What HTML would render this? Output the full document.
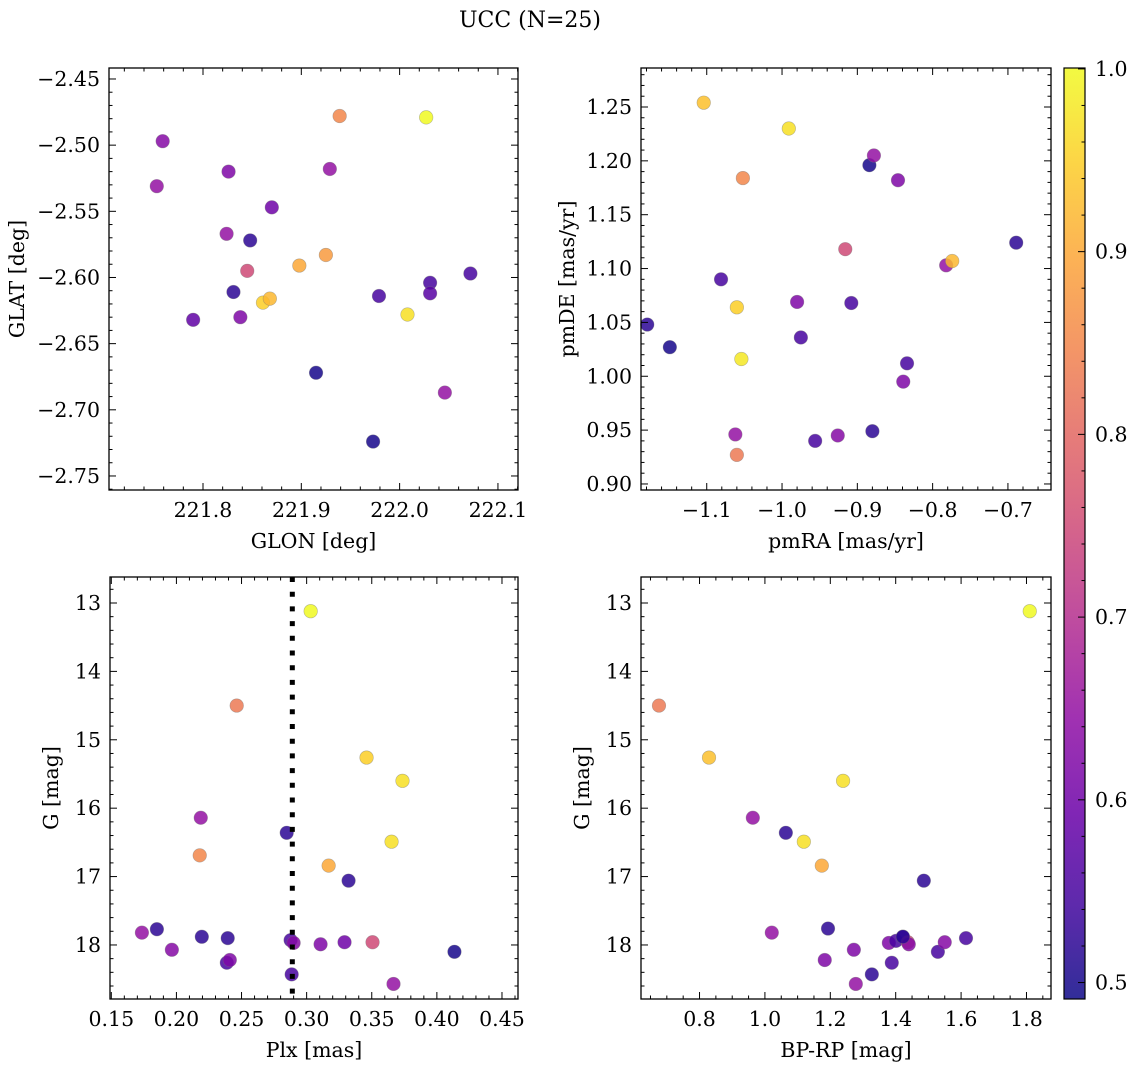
<!DOCTYPE html>
<html><head><meta charset="utf-8"><style>
html,body{margin:0;padding:0;background:#fff;}
svg text{font-family:"DejaVu Serif","Liberation Serif",serif;fill:#000;}
</style></head><body>
<svg id="fig" width="1136" height="1067" viewBox="0 0 1136 1067" xmlns="http://www.w3.org/2000/svg">
<text x="530" y="27" font-size="22" text-anchor="middle">UCC (N=25)</text>
</svg>
<script>
// ---- data ----
const glon = [221.753,221.759,221.790,221.826,221.824,221.831,221.838,221.845,221.848,221.861,221.868,221.870,221.898,221.925,221.929,221.915,221.939,221.979,221.973,222.008,222.027,222.031,222.031,222.046,222.072];
const glat = [-2.531,-2.497,-2.632,-2.520,-2.567,-2.611,-2.630,-2.595,-2.572,-2.619,-2.616,-2.547,-2.591,-2.583,-2.518,-2.672,-2.478,-2.614,-2.724,-2.628,-2.479,-2.604,-2.612,-2.687,-2.597];
const prob1 = [0.65,0.63,0.58,0.62,0.65,0.52,0.62,0.75,0.52,0.95,0.92,0.60,0.90,0.88,0.65,0.50,0.85,0.55,0.50,0.97,1.00,0.55,0.57,0.65,0.55];

const pmra = [-1.179,-1.149,-1.104,-1.081,-1.062,-1.060,-1.060,-1.054,-1.052,-0.991,-0.980,-0.975,-0.956,-0.926,-0.916,-0.908,-0.884,-0.880,-0.878,-0.846,-0.839,-0.834,-0.782,-0.774,-0.689];
const pmde = [1.048,1.027,1.254,1.090,0.946,1.064,0.927,1.016,1.184,1.230,1.069,1.036,0.940,0.945,1.118,1.068,1.196,0.949,1.205,1.182,0.995,1.012,1.103,1.107,1.124];
const prob2 = [0.52,0.50,0.93,0.55,0.65,0.95,0.83,0.98,0.85,0.97,0.62,0.55,0.55,0.63,0.75,0.55,0.50,0.52,0.65,0.62,0.62,0.55,0.65,0.92,0.52];

const plx = [0.1735,0.1850,0.1965,0.2195,0.2187,0.2179,0.2394,0.2387,0.2410,0.2463,0.2847,0.2877,0.2900,0.2885,0.3031,0.3107,0.3169,0.3291,0.3322,0.3460,0.3506,0.3652,0.3667,0.3736,0.4135];
const gmag3 = [17.82,17.77,18.07,17.88,16.14,16.69,17.90,18.26,18.22,14.50,16.36,17.93,17.97,18.43,13.12,17.99,16.84,17.96,17.06,15.26,17.96,16.49,18.57,15.60,18.10];
const prob3 = [0.65,0.52,0.63,0.52,0.65,0.85,0.52,0.55,0.62,0.83,0.52,0.55,0.63,0.55,1.00,0.62,0.90,0.60,0.52,0.95,0.75,0.97,0.65,0.97,0.50];
const plxMedian = [0.289];

const bprp = [0.676,0.829,0.963,1.021,1.064,1.119,1.174,1.183,1.193,1.239,1.272,1.278,1.327,1.379,1.388,1.401,1.422,1.437,1.440,1.486,1.529,1.550,1.615,1.810,1.422];
const gmag4 = [14.50,15.26,16.14,17.82,16.36,16.49,16.84,18.22,17.76,15.60,18.07,18.57,18.43,17.97,18.26,17.94,17.88,17.96,17.99,17.06,18.10,17.96,17.90,13.12,17.88];
const prob4 = [0.83,0.93,0.65,0.65,0.52,0.97,0.90,0.62,0.52,0.97,0.62,0.65,0.52,0.62,0.55,0.55,0.52,0.75,0.63,0.52,0.55,0.63,0.55,1.00,0.52];

const xt1 = ["221.8","221.9","222.0","222.1"], yt1 = ["−2.45","−2.50","−2.55","−2.60","−2.65","−2.70","−2.75"];
const xt2 = ["−1.1","−1.0","−0.9","−0.8","−0.7"], yt2 = ["0.90","0.95","1.00","1.05","1.10","1.15","1.20","1.25"];
const xt3 = ["0.15","0.20","0.25","0.30","0.35","0.40","0.45"], yt3 = ["13","14","15","16","17","18"];
const xt4 = ["0.8","1.0","1.2","1.4","1.6","1.8"], yt4 = ["13","14","15","16","17","18"];
const cbTicks = ["0.5","0.6","0.7","0.8","0.9","1.0"];

// ---- helpers ----
const NS = "http://www.w3.org/2000/svg";
const FS = 20.5;
const svg = document.getElementById('fig');
function mk(tag, attrs, parent){ const e=document.createElementNS(NS,tag); for(const k in attrs) e.setAttribute(k,attrs[k]); (parent||svg).appendChild(e); return e; }
const plasma = [[13,8,135],[65,4,157],[106,0,168],[143,13,164],[177,42,144],[204,71,120],[225,100,98],[242,132,75],[252,166,54],[252,206,37],[240,249,33]];
const CMIN=0.491, CMAX=1.0005;
function cmap(v){ let t=(v-CMIN)/(CMAX-CMIN); t=Math.max(0,Math.min(1,t)); const f=t*10, i=Math.min(9,Math.floor(f)), r=f-i; const a=plasma[i], b=plasma[i+1]; return 'rgb('+[0,1,2].map(k=>Math.round(a[k]+(b[k]-a[k])*r)).join(',')+')'; }

function panel(o){
  const g = mk('g',{});
  
  
  const sx = v => o.x0 + (v-o.xd[0])/(o.xd[1]-o.xd[0])*(o.x1-o.x0);
  const sy = o.yinv ? (v => o.y0 + (v-o.yd[0])/(o.yd[1]-o.yd[0])*(o.y1-o.y0)) : (v => o.y1 - (v-o.yd[0])/(o.yd[1]-o.yd[0])*(o.y1-o.y0));
  for(let i=0;i<o.xs.length;i++){
    const c = mk('circle',{cx:sx(o.xs[i]),cy:sy(o.ys[i]),r:6.8,fill:cmap(o.cs[i]),'fill-opacity':0.85,stroke:'#777','stroke-opacity':0.5,'stroke-width':0.6},g);
    
    
  }
  if(o.vline){ for(const v of o.vline){ const l=mk('line',{x1:sx(v),x2:sx(v),y1:o.y0,y2:o.y1,stroke:'#000','stroke-width':5,'stroke-dasharray':'5,9.7'},g);
    
     } }
  mk('rect',{x:o.x0,y:o.y0,width:o.x1-o.x0,height:o.y1-o.y0,fill:'none',stroke:'#000','stroke-width':1.3},g);
  const xmaj = o.xt.map(s=>parseFloat(s.replace('−','-')));
  const xstep = xmaj[1]-xmaj[0], xmin = xstep/o.xsub;
  for(let v=Math.ceil(o.xd[0]/xmin)*xmin; v<=o.xd[1]; v+=xmin){
    const major = Math.abs(v/xstep - Math.round(v/xstep))<1e-3; const L = major?7:3.5; const X=sx(v);
    mk('line',{x1:X,x2:X,y1:o.y1,y2:o.y1-L,stroke:'#000','stroke-width':1},g);
    mk('line',{x1:X,x2:X,y1:o.y0,y2:o.y0+L,stroke:'#000','stroke-width':1},g);
  }
  o.xt.forEach((s,i)=>{ const t=mk('text',{x:sx(xmaj[i]),y:o.y1+27,'font-size':FS,'text-anchor':'middle'},g); t.textContent=s;
    
     });
  const ymaj = o.yt.map(s=>parseFloat(s.replace('−','-')));
  const ystep = Math.abs(ymaj[1]-ymaj[0]), ymin = ystep/o.ysub;
  for(let v=Math.ceil(Math.min(...o.yd)/ymin)*ymin; v<=Math.max(...o.yd); v+=ymin){
    const major = Math.abs(v/ystep - Math.round(v/ystep))<1e-3; const L = major?7:3.5; const Y=sy(v);
    mk('line',{x1:o.x0,x2:o.x0+L,y1:Y,y2:Y,stroke:'#000','stroke-width':1},g);
    mk('line',{x1:o.x1,x2:o.x1-L,y1:Y,y2:Y,stroke:'#000','stroke-width':1},g);
  }
  o.yt.forEach((s,i)=>{ const t=mk('text',{x:o.x0-9,y:sy(ymaj[i])+7,'font-size':FS,'text-anchor':'end'},g); t.textContent=s;
    
     });
  const xl=mk('text',{x:(o.x0+o.x1)/2,y:o.y1+58,'font-size':FS,'text-anchor':'middle'},g); xl.textContent=o.xlab;
  
  
  const yx=o.ylx, yy=(o.y0+o.y1)/2;
  const yl=mk('text',{x:yx,y:yy,'font-size':FS,'text-anchor':'middle',transform:'rotate(-90 '+yx+' '+yy+')'},g); yl.textContent=o.ylab;
  
  
}

panel({name:'glon-glat-panel',x0:109,x1:518,y0:68,y1:490,xd:[221.7044,222.1204],yd:[-2.7606,-2.4417],xs:glon,ys:glat,cs:prob1,xt:xt1,yt:yt1,xsub:5,ysub:5,xlab:'GLON [deg]',ylab:'GLAT [deg]',ylx:24});
panel({name:'pm-panel',x0:641,x1:1051,y0:68,y1:490,xd:[-1.1873,-0.6428],yd:[0.8944,1.2862],xs:pmra,ys:pmde,cs:prob2,xt:xt2,yt:yt2,xsub:5,ysub:5,xlab:'pmRA [mas/yr]',ylab:'pmDE [mas/yr]',ylx:574});
panel({name:'plx-g-panel',x0:110,x1:518,y0:577,y1:999,xd:[0.149,0.4623],yd:[12.62,18.79],yinv:true,xs:plx,ys:gmag3,cs:prob3,xt:xt3,yt:yt3,xsub:5,ysub:5,xlab:'Plx [mas]',ylab:'G [mag]',ylx:58,vline:plxMedian});
panel({name:'cmd-panel',x0:641,x1:1051,y0:577,y1:999,xd:[0.621,1.875],yd:[12.62,18.79],yinv:true,xs:bprp,ys:gmag4,cs:prob4,xt:xt4,yt:yt4,xsub:4,ysub:5,xlab:'BP-RP [mag]',ylab:'G [mag]',ylx:589});

const cb = mk('g',{});


const defs = mk('defs',{},cb);
const grad = mk('linearGradient',{id:'pg',x1:0,y1:1,x2:0,y2:0},defs);
for(let i=0;i<=20;i++){ const v=CMIN+(CMAX-CMIN)*i/20; mk('stop',{offset:(i/20),'stop-color':cmap(v),'stop-opacity':0.85},grad); }
const cbx0=1064, cbx1=1085, cby0=68, cby1=999;
mk('rect',{x:cbx0,y:cby0,width:cbx1-cbx0,height:cby1-cby0,fill:'url(#pg)',stroke:'#000','stroke-width':1.2},cb);
const cy = v => cby1 - (v-CMIN)/(CMAX-CMIN)*(cby1-cby0);
for(let k=25;k<=50;k++){ const v=k*0.02; const major = k%5===0; const Y=cy(v);
  mk('line',{x1:cbx1,x2:cbx1-(major?7:3.5),y1:Y,y2:Y,stroke:'#000','stroke-width':1},cb); }
cbTicks.forEach(s=>{ const t=mk('text',{x:cbx1+10,y:cy(parseFloat(s))+7,'font-size':FS},cb); t.textContent=s;
  
   });
</script>
</body></html>
